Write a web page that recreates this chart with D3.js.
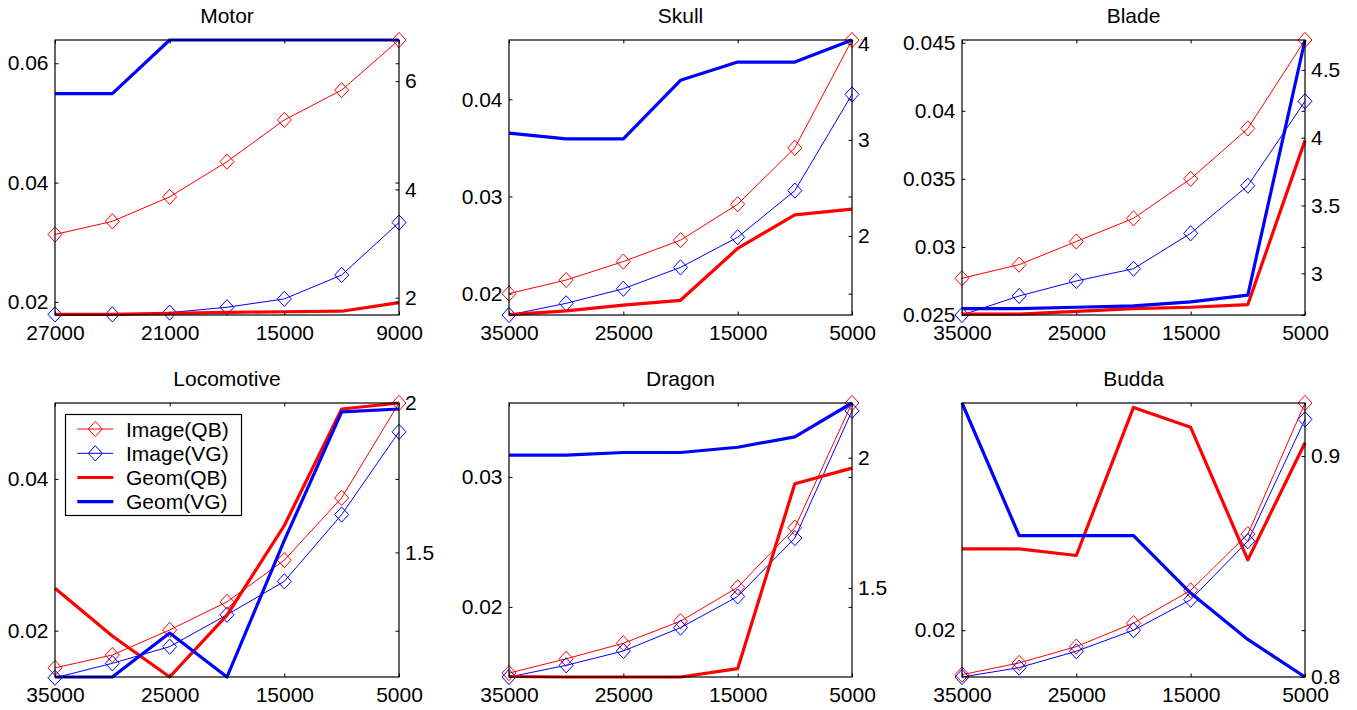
<!DOCTYPE html>
<html>
<head>
<meta charset="utf-8">
<script src="https://cdn.jsdelivr.net/npm/d3@7"></script>
<style>
body { margin: 0; background: #fff; }
svg { display: block; font-family: "Liberation Sans", Arial, sans-serif; }
</style>
</head>
<body>
<svg width="1357" height="710"></svg>
<script>
const titles = ["Motor", "Skull", "Blade", "Locomotive", "Dragon", "Budda"]

// number of faces after simplification (x axis runs high -> low)
const sizesMotor = [27000, 24000, 21000, 18000, 15000, 12000, 9000]
const sizesOther = [35000, 30000, 25000, 20000, 15000, 10000, 5000]
const xTicksMotor = [27000, 21000, 15000, 9000]
const xTicksOther = [35000, 25000, 15000, 5000]

// left axis: image error
const imageQB = [
    [0.0313, 0.0335, 0.0376, 0.0435, 0.0505, 0.0555, 0.0639],
    [0.0200, 0.0214, 0.0233, 0.0255, 0.0292, 0.0350, 0.0461],
    [0.0277, 0.0287, 0.0304, 0.0321, 0.0350, 0.0387, 0.0452],
    [0.0151, 0.0168, 0.0201, 0.0238, 0.0293, 0.0375, 0.0500],
    [0.0149, 0.0160, 0.0172, 0.0189, 0.0215, 0.0261, 0.0357],
    [0.0181, 0.0186, 0.0193, 0.0203, 0.0217, 0.0241, 0.0297]
]
const imageVG = [
    [0.0179, 0.0179, 0.0182, 0.0191, 0.0205, 0.0245, 0.0333],
    [0.0178, 0.0190, 0.0205, 0.0227, 0.0258, 0.0306, 0.0405],
    [0.0250, 0.0264, 0.0275, 0.0284, 0.0310, 0.0345, 0.0407],
    [0.0138, 0.0157, 0.0179, 0.0221, 0.0265, 0.0353, 0.0462],
    [0.0146, 0.0155, 0.0166, 0.0184, 0.0208, 0.0253, 0.0351],
    [0.0180, 0.0184, 0.0191, 0.0200, 0.0213, 0.0238, 0.0290]
]

// right axis: geometric error
const geomQB = [
    [1.69, 1.69, 1.71, 1.73, 1.74, 1.75, 1.91],
    [1.18, 1.22, 1.28, 1.33, 1.87, 2.22, 2.28],
    [2.70, 2.70, 2.72, 2.74, 2.75, 2.77, 3.98],
    [1.38, 1.22, 1.083, 1.29, 1.59, 1.98, 2.00],
    [1.16, 1.158, 1.158, 1.158, 1.19, 1.90, 1.96],
    [0.858, 0.858, 0.855, 0.922, 0.913, 0.853, 0.906]
]
const geomVG = [
    [5.77, 5.77, 6.76, 6.76, 6.76, 6.76, 6.76],
    [3.07, 3.01, 3.01, 3.62, 3.81, 3.81, 4.04],
    [2.74, 2.74, 2.75, 2.76, 2.79, 2.84, 4.72],
    [1.083, 1.083, 1.23, 1.083, 1.54, 1.97, 1.98],
    [2.01, 2.01, 2.02, 2.02, 2.04, 2.08, 2.21],
    [0.924, 0.864, 0.864, 0.864, 0.838, 0.817, 0.800]
]

const leftRange = [[0.0178, 0.0639], [0.0178, 0.0461], [0.025, 0.0452], [0.0139, 0.0500], [0.0146, 0.0357], [0.0180, 0.0297]]
const rightRange = [[1.68, 6.76], [1.177, 4.04], [2.693, 4.72], [1.083, 2.0], [1.158, 2.21], [0.8, 0.924]]
const leftTicks = [[0.02, 0.04, 0.06], [0.02, 0.03, 0.04], [0.025, 0.03, 0.035, 0.04, 0.045], [0.02, 0.04], [0.02, 0.03], [0.02]]
const rightTicks = [[2, 4, 6], [2, 3, 4], [3, 3.5, 4, 4.5], [1.5, 2], [1.5, 2], [0.8, 0.9]]

const legendLabels = ["Image(QB)", "Image(VG)", "Geom(QB)", "Geom(VG)"]

const red = "#ff0000", blue = "#0000ff"
const colLeft = [55, 509, 962], colRight = [399, 852, 1305]
const rowTop = [40, 403], rowBottom = [315, 677]
const fontSize = 21
const tick = -3.5

const svg = d3.select("svg")
svg.append("rect").attr("width", 1357).attr("height", 710).attr("fill", "#fff")

const diamond = (rx, ry) => `M0,${-ry}L${rx},0L0,${ry}L${-rx},0Z`

titles.forEach((title, i) => {
    const col = i % 3, row = Math.floor(i / 3)
    const x0 = colLeft[col], x1 = colRight[col], y0 = rowTop[row], y1 = rowBottom[row]
    const sizes = i === 0 ? sizesMotor : sizesOther
    const xTicks = i === 0 ? xTicksMotor : xTicksOther

    const x = d3.scaleLinear().domain([sizes[0], sizes[sizes.length - 1]]).range([x0, x1])
    const yL = d3.scaleLinear().domain(leftRange[i]).range([y1, y0])
    const yR = d3.scaleLinear().domain(rightRange[i]).range([y1, y0])

    const g = svg.append("g").attr("class", "panel")

    g.append("text")
        .attr("x", (x0 + x1) / 2)
        .attr("y", y0 - 17)
        .attr("text-anchor", "middle")
        .attr("font-size", fontSize)
        .text(title)

    const lineL = d3.line().x((d, j) => x(sizes[j])).y(d => yL(d))
    const lineR = d3.line().x((d, j) => x(sizes[j])).y(d => yR(d))

    // image curves (thin, diamonds)
    const imgSeries = [[imageQB[i], red], [imageVG[i], blue]]
    imgSeries.forEach(([vals, color]) => {
        g.append("path")
            .attr("d", lineL(vals))
            .attr("fill", "none")
            .attr("stroke", color)
            .attr("stroke-width", 1)
        g.selectAll(null)
            .data(vals)
            .enter()
            .append("path")
            .attr("d", diamond(7, 7.6))
            .attr("transform", (d, j) => `translate(${x(sizes[j])},${yL(d)})`)
            .attr("fill", "none")
            .attr("stroke", color)
            .attr("stroke-width", 1)
    })

    // geometric curves (thick)
    const geoSeries = [[geomQB[i], red], [geomVG[i], blue]]
    geoSeries.forEach(([vals, color]) => {
        g.append("path")
            .attr("d", lineR(vals))
            .attr("fill", "none")
            .attr("stroke", color)
            .attr("stroke-width", 3.2)
            .attr("stroke-linejoin", "round")
    })

    // axes
    const ax = (sel, axis) => {
        sel.call(axis)
        sel.select(".domain").remove()
        sel.selectAll(".tick line").attr("stroke", "#000")
        sel.selectAll("text").attr("font-size", fontSize).attr("fill", "#000")
        sel.attr("font-family", null)
    }
    g.append("g").attr("transform", `translate(0,${y1})`)
        .call(ax, d3.axisBottom(x).tickValues(xTicks).tickSize(tick).tickPadding(10).tickFormat(d => d))
    g.append("g").attr("transform", `translate(0,${y0})`)
        .call(ax, d3.axisTop(x).tickValues(xTicks).tickSize(tick).tickFormat(""))
    g.append("g").attr("transform", `translate(${x0},0)`)
        .call(ax, d3.axisLeft(yL).tickValues(leftTicks[i]).tickSize(tick).tickPadding(6.5).tickFormat(d => d))
    g.append("g").attr("transform", `translate(${x1},0)`)
        .call(ax, d3.axisRight(yL).tickValues(leftTicks[i]).tickSize(tick).tickFormat(""))
    g.append("g").attr("transform", `translate(${x1},0)`)
        .call(ax, d3.axisRight(yR).tickValues(rightTicks[i]).tickSize(tick).tickPadding(6).tickFormat(d => d))

    g.append("rect")
        .attr("x", x0).attr("y", y0)
        .attr("width", x1 - x0).attr("height", y1 - y0)
        .attr("fill", "none")
        .attr("stroke", "#000")
        .attr("stroke-width", 1.2)

    if (i === 3) {
        const lg = g.append("g").attr("class", "legend")
        lg.append("rect")
            .attr("x", 65.5).attr("y", 414.5)
            .attr("width", 176).attr("height", 101)
            .attr("fill", "#fff")
            .attr("stroke", "#000")
            .attr("stroke-width", 1.2)
        const rowY = [429, 453.3, 477.5, 501.7]
        const colors = [red, blue, red, blue]
        legendLabels.forEach((label, k) => {
            lg.append("line")
                .attr("x1", 77.3).attr("x2", 113.3)
                .attr("y1", rowY[k]).attr("y2", rowY[k])
                .attr("stroke", colors[k])
                .attr("stroke-width", k < 2 ? 1 : 3.2)
            if (k < 2) {
                lg.append("path")
                    .attr("d", diamond(7, 7.6))
                    .attr("transform", `translate(95.3,${rowY[k]})`)
                    .attr("fill", "none")
                    .attr("stroke", colors[k])
            }
            lg.append("text")
                .attr("x", 126)
                .attr("y", rowY[k])
                .attr("dy", "0.36em")
                .attr("font-size", fontSize)
                .text(label)
        })
    }
})
</script>
</body>
</html>
